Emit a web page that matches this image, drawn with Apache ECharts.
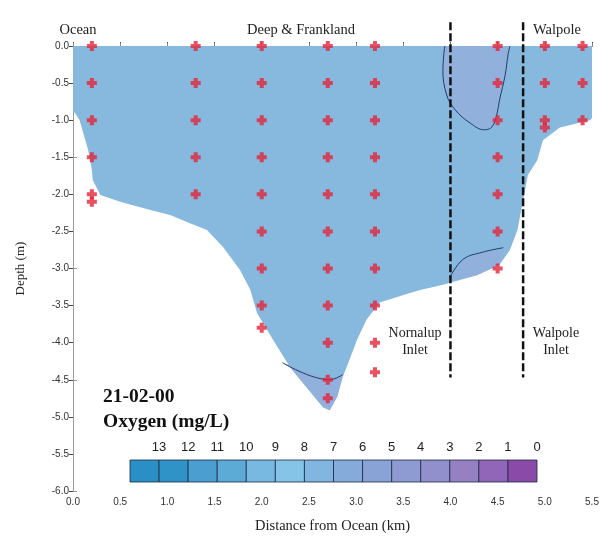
<!DOCTYPE html>
<html><head><meta charset="utf-8">
<script src="https://cdn.jsdelivr.net/npm/echarts@6/dist/echarts.min.js"></script>
<style>html,body{margin:0;padding:0;background:#fff}#c{width:610px;height:536px}</style>
</head><body><div id="c"></div>
<script>
// ---- data ----
const stationKm = [0.2, 1.3, 2.0, 2.7, 3.2, 4.5, 5.0, 5.4];
const sampleDepths = [
  [0, -0.5, -1, -1.5, -2, -2.1],
  [0, -0.5, -1, -1.5, -2],
  [0, -0.5, -1, -1.5, -2, -2.5, -3, -3.5, -3.8],
  [0, -0.5, -1, -1.5, -2, -2.5, -3, -3.5, -4, -4.5, -4.75],
  [0, -0.5, -1, -1.5, -2, -2.5, -3, -3.5, -4, -4.4],
  [0, -0.5, -1, -1.5, -2, -2.5, -3],
  [0, -0.5, -1, -1.1],
  [0, -0.5, -1]
];
// water section outline [km, depth]
const sectionOutline = [
  [0, 0], [5.5, 0], [5.5, -0.97], [5.48, -1.0], [5.16, -1.1], [4.98, -1.27],
  [4.92, -1.54], [4.82, -1.74], [4.77, -2.08], [4.71, -2.48], [4.63, -2.75],
  [4.52, -2.95], [4.28, -3.09], [3.92, -3.22], [3.68, -3.29], [3.57, -3.33],
  [3.25, -3.46], [3.11, -3.69], [3.01, -3.96], [2.93, -4.23], [2.86, -4.46],
  [2.80, -4.73], [2.72, -4.91], [2.65, -4.87], [2.30, -4.33], [2.12, -3.96],
  [1.95, -3.60], [1.88, -3.29], [1.77, -3.02], [1.59, -2.71], [1.42, -2.48],
  [1.24, -2.39], [1.03, -2.28], [0.82, -2.21], [0.50, -2.10], [0.29, -2.01],
  [0.21, -1.81], [0.20, -1.67], [0.16, -1.40], [0.07, -1.0], [0.02, -0.9], [0, -0.9]
];
// 7 mg/L contour (surface patch near Nornalup Inlet)
const surfaceContour = [
  [3.94, 0], [3.92, -0.32], [3.96, -0.66], [4.05, -0.86], [4.21, -1.04],
  [4.36, -1.13], [4.44, -1.09], [4.49, -0.93], [4.52, -0.73], [4.58, -0.39],
  [4.61, -0.12], [4.63, 0]
];
const inletContour = [[3.99, -3.13], [4.13, -2.88], [4.34, -2.78], [4.56, -2.72]];
const inletPatchEdge = [[4.52, -2.95], [4.28, -3.09], [3.99, -3.15]];
const basinContour = [[2.22, -4.27], [2.72, -4.50], [2.86, -4.43]];
const basinPatchEdge = [[2.80, -4.73], [2.72, -4.91], [2.65, -4.87], [2.30, -4.33]];
const dividerKm = [4.0, 4.77];
const dividerDepths = [0.32, -4.47];
const regionNames = ['Ocean', 'Deep & Frankland', 'Walpole'];
const inletNames = ['Nornalup\nInlet', 'Walpole\nInlet'];
const colorbarLabels = ['13', '12', '11', '10', '9', '8', '7', '6', '5', '4', '3', '2', '1', '0'];
const colorbarColors = ['#2a8fc4', '#3093c7', '#4a9fd0', '#5caad6', '#77b9e0', '#86c4e7', '#80b6df',
  '#85abdb', '#8aa3d7', '#8e9ad2', '#9290cc', '#9680c4', '#9166b8', '#8a4aa8'];
const sectionColor = '#87b8de';
const patchColor = '#92b0dc';

// ---- chart ----
const chart = echarts.init(document.getElementById('c'), null, {renderer: 'canvas'});
const plusPath = 'path://M3,0h4v3h3v4h-3v3h-4v-3h-3v-4h3z';
const samples = [];
stationKm.forEach((x, i) => sampleDepths[i].forEach(d => samples.push([x, d])));

function polygonSeries(points, color, z) {
  return {
    type: 'custom', xAxisIndex: 0, yAxisIndex: 0, z: z, silent: true,
    data: [0],
    renderItem: function (params, api) {
      return {
        type: 'polygon',
        shape: {points: points.map(p => api.coord(p))},
        style: {fill: color, stroke: null}
      };
    }
  };
}
function contourLine(points) {
  return {
    type: 'line', data: points, smooth: 0.4, showSymbol: false, symbol: 'none', z: 4,
    lineStyle: {color: '#1f3d6e', width: 1}, silent: true
  };
}
const serif = 'Liberation Serif';
const sans = 'Liberation Sans';

const series = [
  polygonSeries(sectionOutline, sectionColor, 1),
  polygonSeries(surfaceContour, patchColor, 2),
  polygonSeries(inletContour.concat(inletPatchEdge), patchColor, 2),
  polygonSeries(basinContour.concat(basinPatchEdge), patchColor, 2),
  contourLine(surfaceContour),
  contourLine(inletContour),
  contourLine(basinContour)
];
dividerKm.forEach(x => series.push({
  type: 'line', data: dividerDepths.map(d => [x, d]), clip: false, showSymbol: false, symbol: 'none', z: 6,
  lineStyle: {color: '#111', width: 2.5, type: [8, 3]}, silent: true
}));
series.push({
  type: 'scatter', data: samples, symbol: plusPath, symbolSize: 10, z: 8,
  itemStyle: {color: '#e3243a'}, silent: true
});
series.push({
  type: 'custom', xAxisIndex: 2, yAxisIndex: 2, silent: true,
  data: colorbarColors.map((c, i) => i),
  renderItem: function (params, api) {
    const i = api.value(0);
    const a = api.coord([i, 1]);
    const b = api.coord([i + 1, 0]);
    return {
      type: 'rect',
      shape: {x: a[0], y: a[1], width: b[0] - a[0], height: b[1] - a[1]},
      style: {fill: colorbarColors[i], stroke: '#1b2a40', lineWidth: 0.8}
    };
  }
});

const option = {
  backgroundColor: '#fff',
  animation: false,
  grid: [
    {left: 73, top: 46, width: 519, height: 445, containLabel: false, outerBoundsMode: 'none'},
    {left: 130, top: 460, width: 407, height: 22, containLabel: false, outerBoundsMode: 'none'}
  ],
  xAxis: [
    {gridIndex: 0, type: 'value', min: 0, max: 5.5, interval: 0.5, position: 'bottom',
      name: 'Distance from Ocean (km)', nameLocation: 'middle', nameGap: 28,
      nameTextStyle: {fontFamily: serif, fontSize: 14.5, color: '#222'},
      axisLine: {lineStyle: {color: '#555'}}, axisTick: {inside: true, length: 4, lineStyle: {color: '#444'}},
      splitLine: {show: false},
      axisLabel: {formatter: v => v.toFixed(1), fontFamily: sans, fontSize: 10, color: '#333', margin: 6}},
    {gridIndex: 0, type: 'value', min: 0, max: 5.5, interval: 0.5, position: 'top',
      axisLine: {lineStyle: {color: '#333'}}, axisTick: {length: 3, lineStyle: {color: '#888'}},
      axisLabel: {show: false}, splitLine: {show: false}},
    {gridIndex: 1, type: 'value', min: 0, max: 14, interval: 1, position: 'top',
      axisLine: {show: false}, axisTick: {show: false}, splitLine: {show: false},
      axisLabel: {formatter: v => (v >= 1 ? colorbarLabels[v - 1] : ''), fontFamily: sans, fontSize: 13, color: '#222', margin: 6}}
  ],
  yAxis: [
    {gridIndex: 0, type: 'value', min: -6, max: 0, interval: 0.5,
      name: 'Depth (m)', nameLocation: 'middle', nameGap: 46, nameRotate: 90,
      nameTextStyle: {fontFamily: serif, fontSize: 13, color: '#222'},
      axisLine: {lineStyle: {color: '#444'}}, axisTick: {length: 4, lineStyle: {color: '#444'}},
      splitLine: {show: false},
      axisLabel: {formatter: v => v.toFixed(1), fontFamily: sans, fontSize: 10, color: '#333', margin: 4}},
    {gridIndex: 0, type: 'value', min: -6, max: 0, interval: 1.5, position: 'right',
      axisLine: {lineStyle: {color: '#999'}}, axisTick: {length: 4, lineStyle: {color: '#999'}},
      axisLabel: {show: false}, splitLine: {show: false}},
    {gridIndex: 1, type: 'value', min: 0, max: 1, show: false}
  ],
  graphic: [
    {type: 'text', x: 78, y: 30, style: {text: regionNames[0], font: '14.5px "Liberation Serif"', fill: '#222', align: 'center', verticalAlign: 'middle'}},
    {type: 'text', x: 301, y: 30, style: {text: regionNames[1], font: '14.5px "Liberation Serif"', fill: '#222', align: 'center', verticalAlign: 'middle'}},
    {type: 'text', x: 557, y: 30, style: {text: regionNames[2], font: '14.5px "Liberation Serif"', fill: '#222', align: 'center', verticalAlign: 'middle'}},
    {type: 'text', x: 415, y: 325, style: {text: inletNames[0], font: '14px "Liberation Serif"', fill: '#222', align: 'center', lineHeight: 17}},
    {type: 'text', x: 556, y: 325, style: {text: inletNames[1], font: '14px "Liberation Serif"', fill: '#222', align: 'center', lineHeight: 17}},
    {type: 'text', x: 103, y: 397, style: {text: '21-02-00', font: 'bold 19.5px "Liberation Serif"', fill: '#111', verticalAlign: 'middle'}},
    {type: 'text', x: 103, y: 422, style: {text: 'Oxygen (mg/L)', font: 'bold 19.5px "Liberation Serif"', fill: '#111', verticalAlign: 'middle'}}
  ],
  series: series
};
chart.setOption(option);
</script>
</body></html>
